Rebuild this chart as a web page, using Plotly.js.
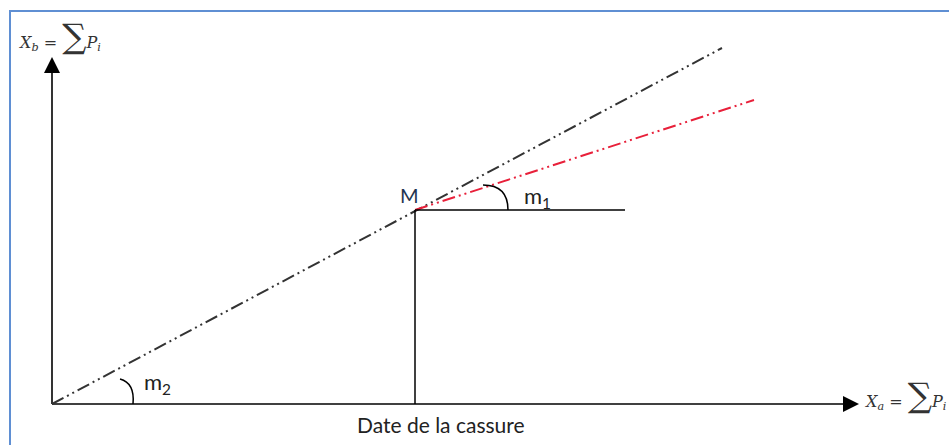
<!DOCTYPE html>
<html>
<head>
<meta charset="utf-8">
<script src="https://cdn.plot.ly/plotly-3.0.1.min.js"></script>
<style>html,body{margin:0;padding:0;background:#fff;}#chart{width:949px;height:445px;}</style>
</head>
<body>
<div id="chart"></div>
<script>
// Diagram data (x: cumulative Pi of station a, y: cumulative Pi of station b), origin at (0,0)
const xAxisEnd = [0, 807];
const yAxisEnd = [0, 347];
const cumulX = [0, 670];      // black double-mass line (slope m2)
const cumulY = [0, 356];
const breakPoint = [363, 194]; // M, date of the break
const afterX = [363, 702];    // red line after the break (slope m1)
const afterY = [194, 304];
const horizX = [363, 573];
const horizY = [194, 194];
const vertX = [363, 363];
const vertY = [0, 194];
const labels = {
  M: 'M',
  m1: 'm<sub>1</sub>',
  m2: 'm<sub>2</sub>',
  date: 'Date de la cassure',
  xa: '<i>X<sub>a</sub></i> = <span style="font-size:34px">∑</span><i>P<sub>i</sub></i>',
  xb: '<i>X<sub>b</sub></i> = <span style="font-size:34px">∑</span><i>P<sub>i</sub></i>'
};

const dashPat = '13px,4px,2px,4px,2px,4px';
const ah = 16, hw = 8;
const xa = xAxisEnd[1], ya = yAxisEnd[1];
const traces = [
  {x: [0, xa - 4], y: [0, 0], mode: 'lines', line: {color: '#000', width: 1.6}},
  {x: [0, 0], y: [0, ya - 4], mode: 'lines', line: {color: '#000', width: 1.6}},
  {x: cumulX, y: cumulY, mode: 'lines', line: {color: '#333', width: 2, dash: dashPat}},
  {x: afterX, y: afterY, mode: 'lines', line: {color: '#e8203a', width: 2, dash: dashPat}},
  {x: horizX, y: horizY, mode: 'lines', line: {color: '#000', width: 1.5}},
  {x: vertX, y: vertY, mode: 'lines', line: {color: '#000', width: 1.5}}
];

const shapes = [
  {type: 'path', xref: 'x', yref: 'y', fillcolor: '#000', line: {width: 0},
   path: `M ${xa} 0 L ${xa-ah} ${hw} L ${xa-ah} ${-hw} Z`},
  {type: 'path', xref: 'x', yref: 'y', fillcolor: '#000', line: {width: 0},
   path: `M 0 ${ya} L ${-hw} ${ya-ah} L ${hw} ${ya-ah} Z`},
  // angle arcs
  {type: 'path', xref: 'x', yref: 'y', line: {color: '#000', width: 1.5},
   path: `M 68 25 Q 83 21 81 0`},
  {type: 'path', xref: 'x', yref: 'y', line: {color: '#000', width: 1.5},
   path: `M 431 219 Q 456 219 456 194`},
  // outer blue frame
  {type: 'rect', xref: 'paper', yref: 'paper', x0: 10/949, x1: 1.05, y0: -0.05, y1: (445-11)/445,
   line: {color: '#5f8fd3', width: 2}}
];

const annotations = [
  {x: breakPoint[0] - 6, y: breakPoint[1] + 15, xanchor: 'center', yanchor: 'middle', text: labels.M,
   showarrow: false, font: {family: 'Lato, sans-serif', size: 20, color: '#1f3550'}},
  {x: 470, y: 207, xanchor: 'left', yanchor: 'middle', text: labels.m1, showarrow: false,
   font: {family: 'Lato, sans-serif', size: 22, color: '#222'}},
  {x: 90, y: 21, xanchor: 'left', yanchor: 'middle', text: labels.m2, showarrow: false,
   font: {family: 'Lato, sans-serif', size: 22, color: '#222'}},
  {x: 389, y: -20, xanchor: 'center', yanchor: 'middle', text: labels.date, showarrow: false,
   font: {family: 'Lato, sans-serif', size: 21, color: '#222'}},
  {x: xa + 3, y: 9, xanchor: 'left', yanchor: 'middle', text: labels.xa, showarrow: false,
   font: {family: '"DejaVu Serif", serif', size: 16, color: '#333'}},
  {x: -36, y: ya + 21, xanchor: 'left', yanchor: 'middle', text: labels.xb, showarrow: false,
   font: {family: '"DejaVu Serif", serif', size: 16, color: '#333'}}
];

const layout = {
  width: 949, height: 445,
  margin: {l: 0, r: 0, t: 0, b: 0},
  paper_bgcolor: '#fff', plot_bgcolor: '#fff',
  showlegend: false,
  xaxis: {range: [-52, 897], visible: false, fixedrange: true},
  yaxis: {range: [-41, 404], visible: false, fixedrange: true},
  shapes: shapes,
  annotations: annotations
};
Plotly.newPlot('chart', traces, layout, {displayModeBar: false, staticPlot: true});
</script>
</body>
</html>
